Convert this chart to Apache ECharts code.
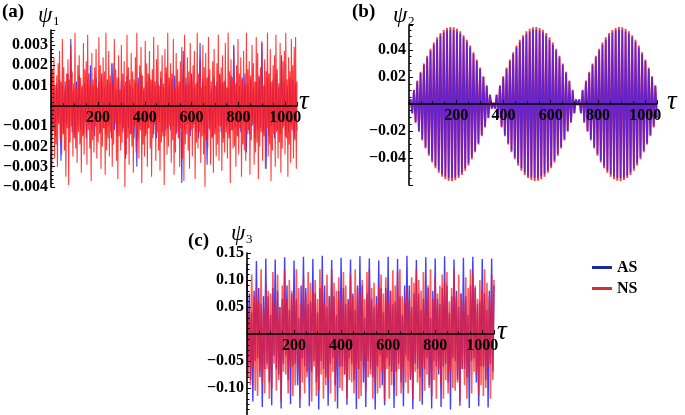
<!DOCTYPE html>
<html><head><meta charset="utf-8">
<script src="https://cdn.jsdelivr.net/npm/echarts@6/dist/echarts.min.js"></script>
<style>html,body{margin:0;padding:0;background:#fff}#c{width:685px;height:415px}</style>
</head><body><div id="c"></div>
<script>
// ---------- data ----------
const seriesNames = ['AS', 'NS'];
const xMax = 1050;
const xTicks = [200, 400, 600, 800, 1000];
const xTickLabels = ['200', '400', '600', '800', '1000'];

// panel (a): psi_1 ; NS sampled every 3 tau, AS every 6 tau
const tauStepANS = 3;
const aNS = [
0.0029,-0.0031,0.0018,-0.0012,0.0024,-0.0026,0.0010,-0.0019,0.0015,-0.0030,
0.0021,-0.0009,0.0027,-0.0017,0.0012,-0.0024,0.0033,-0.0014,0.0019,-0.0022,
0.0008,-0.0035,0.0016,-0.0011,0.0023,-0.0039,0.0013,-0.0018,0.0030,-0.0010,
0.0017,-0.0025,0.0011,-0.0016,0.0036,-0.0021,0.0009,-0.0028,0.0020,-0.0013,
0.0025,-0.0019,0.0014,-0.0033,0.0010,-0.0015,0.0031,-0.0024,0.0018,-0.0008,
0.0022,-0.0029,0.0035,-0.0012,0.0016,-0.0021,0.0011,-0.0037,0.0026,-0.0017,
0.0013,-0.0023,0.0019,-0.0010,0.0028,-0.0026,0.0009,-0.0018,0.0034,-0.0014,
0.0020,-0.0031,0.0012,-0.0020,0.0024,-0.0011,0.0017,-0.0034,0.0036,-0.0022,
0.0010,-0.0016,0.0027,-0.0025,0.0015,-0.0013,0.0021,-0.0030,0.0011,-0.0019,
0.0033,-0.0009,0.0018,-0.0027,0.0014,-0.0036,0.0025,-0.0015,0.0008,-0.0022,
0.0030,-0.0018,0.0016,-0.0011,0.0022,-0.0040,0.0012,-0.0024,0.0035,-0.0016,
0.0019,-0.0029,0.0010,-0.0014,0.0026,-0.0020,0.0017,-0.0033,0.0013,-0.0010,
0.0024,-0.0023,0.0036,-0.0017,0.0011,-0.0026,0.0020,-0.0012,0.0029,-0.0038,
0.0015,-0.0019,0.0009,-0.0025,0.0032,-0.0014,0.0021,-0.0030,0.0016,-0.0011,
0.0027,-0.0021,0.0013,-0.0035,0.0018,-0.0016,0.0034,-0.0009,0.0012,-0.0027,
0.0023,-0.0013,0.0030,-0.0022,0.0010,-0.0032,0.0017,-0.0018,0.0025,-0.0015,
0.0011,-0.0039,0.0028,-0.0012,0.0019,-0.0024,0.0036,-0.0020,0.0014,-0.0010,
0.0021,-0.0028,0.0016,-0.0017,0.0033,-0.0034,0.0009,-0.0023,0.0026,-0.0013,
0.0018,-0.0016,0.0012,-0.0030,0.0022,-0.0011,0.0029,-0.0026,0.0015,-0.0037,
0.0035,-0.0019,0.0010,-0.0014,0.0024,-0.0022,0.0017,-0.0031,0.0031,-0.0012,
0.0013,-0.0025,0.0020,-0.0009,0.0027,-0.0036,0.0011,-0.0018,0.0036,-0.0021,
0.0016,-0.0013,0.0023,-0.0028,0.0009,-0.0015,0.0030,-0.0024,0.0019,-0.0040,
0.0026,-0.0017,0.0014,-0.0021,0.0034,-0.0011,0.0018,-0.0029,0.0012,-0.0016,
0.0022,-0.0033,0.0028,-0.0014,0.0010,-0.0025,0.0021,-0.0019,0.0035,-0.0027,
0.0015,-0.0010,0.0019,-0.0032,0.0025,-0.0018,0.0012,-0.0023,0.0031,-0.0013,
0.0009,-0.0026,0.0036,-0.0016,0.0017,-0.0038,0.0023,-0.0012,0.0014,-0.0021,
0.0029,-0.0020,0.0011,-0.0030,0.0020,-0.0015,0.0033,-0.0024,0.0016,-0.0011,
0.0024,-0.0035,0.0013,-0.0019,0.0027,-0.0022,0.0010,-0.0027,0.0036,-0.0014,
0.0018,-0.0012,0.0022,-0.0034,0.0015,-0.0017,0.0030,-0.0009,0.0021,-0.0029,
0.0012,-0.0023,0.0034,-0.0018,0.0026,-0.0036,0.0014,-0.0020,0.0019,-0.0013,
0.0032,-0.0027,0.0010,-0.0015,0.0023,-0.0031,0.0017,-0.0011,0.0036,-0.0025,
0.0016,-0.0019,0.0028,-0.0037,0.0012,-0.0022,0.0020,-0.0014,0.0025,-0.0030,
0.0035,-0.0013,0.0018,-0.0026,0.0011,-0.0018,0.0031,-0.0033,0.0015,-0.0021,
0.0022,-0.0010,0.0027,-0.0024,0.0036,-0.0016,0.0013,-0.0035,0.0024,-0.0019,
0.0017,-0.0028,0.0033,-0.0012,0.0020,-0.0026,0.0029,-0.0017,0.0034,-0.0031,
0.0012];
const tauStepAAS = 6;
const aAS = [
0.0014,-0.0012,0.0009,-0.0015,0.0011,-0.0008,0.0013,-0.0027,0.0010,-0.0014,
0.0012,-0.0009,0.0016,-0.0011,0.0033,-0.0013,0.0008,-0.0016,0.0012,-0.0010,
0.0015,-0.0012,0.0009,-0.0014,0.0011,-0.0016,0.0013,-0.0009,0.0020,-0.0012,
0.0010,-0.0015,0.0014,-0.0008,0.0012,-0.0013,0.0016,-0.0011,0.0009,-0.0014,
0.0013,-0.0010,0.0011,-0.0016,0.0021,-0.0012,0.0008,-0.0015,0.0014,-0.0009,
0.0012,-0.0013,0.0010,-0.0026,0.0015,-0.0011,0.0013,-0.0014,0.0009,-0.0016,
0.0011,-0.0030,0.0014,-0.0010,0.0016,-0.0012,0.0008,-0.0015,0.0012,-0.0011,
0.0015,-0.0009,0.0013,-0.0014,0.0010,-0.0016,0.0012,-0.0008,0.0014,-0.0013,
0.0009,-0.0015,0.0016,-0.0011,0.0011,-0.0012,0.0013,-0.0010,0.0015,-0.0014,
0.0010,-0.0016,0.0012,-0.0038,0.0027,-0.0012,0.0014,-0.0009,0.0011,-0.0015,
0.0016,-0.0011,0.0009,-0.0013,0.0012,-0.0016,0.0031,-0.0010,0.0013,-0.0014,
0.0010,-0.0029,0.0015,-0.0012,0.0008,-0.0015,0.0014,-0.0011,0.0012,-0.0009,
0.0016,-0.0013,0.0011,-0.0016,0.0013,-0.0010,0.0009,-0.0014,0.0015,-0.0012,
0.0030,-0.0011,0.0012,-0.0015,0.0010,-0.0013,0.0014,-0.0009,0.0016,-0.0023,
0.0011,-0.0014,0.0013,-0.0010,0.0009,-0.0016,0.0012,-0.0012,0.0015,-0.0011,
0.0031,-0.0013,0.0010,-0.0031,0.0014,-0.0015,0.0011,-0.0010,0.0013,-0.0016,
0.0016,-0.0012,0.0009,-0.0014,0.0025,-0.0011,0.0012,-0.0015,0.0010,-0.0013,
0.0014,-0.0009,0.0013,-0.0016,0.0011,-0.0012];
const aYTicks = [-0.004, -0.003, -0.002, -0.001, 0.001, 0.002, 0.003];
const aYLabels = ['\u22120.004', '\u22120.003', '\u22120.002', '\u22120.001', '0.001', '0.002', '0.003'];

// panel (b): psi_2, samples every 7 tau
const tauStepB = 7;
const bAS = [
0,0.0034,-0.0068,0.0101,-0.0134,0.0167,-0.0199,0.0230,-0.0260,0.0290,
-0.0318,0.0345,-0.0371,0.0395,-0.0418,0.0439,-0.0459,0.0476,-0.0492,0.0507,
-0.0519,0.0529,-0.0537,0.0544,-0.0548,0.0550,-0.0550,0.0548,-0.0544,0.0537,
-0.0529,0.0519,-0.0507,0.0492,-0.0476,0.0459,-0.0439,0.0418,-0.0395,0.0371,
-0.0345,0.0318,-0.0290,0.0260,-0.0230,0.0199,-0.0167,0.0134,-0.0101,0.0068,
-0.0034,0.0008,-0.0034,0.0068,-0.0101,0.0134,-0.0167,0.0199,-0.0230,0.0260,
-0.0290,0.0318,-0.0345,0.0371,-0.0395,0.0418,-0.0439,0.0459,-0.0476,0.0492,
-0.0507,0.0519,-0.0529,0.0537,-0.0544,0.0548,-0.0550,0.0550,-0.0548,0.0544,
-0.0537,0.0529,-0.0519,0.0507,-0.0492,0.0476,-0.0459,0.0439,-0.0418,0.0395,
-0.0371,0.0345,-0.0318,0.0290,-0.0260,0.0230,-0.0199,0.0167,-0.0134,0.0101,
-0.0068,0.0034,-0.0008,0.0034,-0.0068,0.0101,-0.0134,0.0167,-0.0199,0.0230,
-0.0260,0.0290,-0.0318,0.0345,-0.0371,0.0395,-0.0418,0.0439,-0.0459,0.0476,
-0.0492,0.0507,-0.0519,0.0529,-0.0537,0.0544,-0.0548,0.0550,-0.0550,0.0548,
-0.0544,0.0537,-0.0529,0.0519,-0.0507,0.0492,-0.0476,0.0459,-0.0439,0.0418,
-0.0395,0.0371,-0.0345,0.0318,-0.0290,0.0260,-0.0230,0.0199,-0.0167,0.0134,
-0.0101];
const bNS = [
0,0.0035,-0.0070,0.0105,-0.0139,0.0173,-0.0206,0.0238,-0.0270,0.0300,
-0.0329,0.0357,-0.0384,0.0409,-0.0433,0.0455,-0.0475,0.0494,-0.0510,0.0525,
-0.0538,0.0548,-0.0557,0.0563,-0.0568,0.0570,-0.0570,0.0568,-0.0563,0.0557,
-0.0548,0.0538,-0.0525,0.0510,-0.0494,0.0475,-0.0455,0.0433,-0.0409,0.0384,
-0.0357,0.0329,-0.0300,0.0270,-0.0238,0.0206,-0.0173,0.0139,-0.0105,0.0070,
-0.0035,0.0012,-0.0035,0.0070,-0.0105,0.0139,-0.0173,0.0206,-0.0238,0.0270,
-0.0300,0.0329,-0.0357,0.0384,-0.0409,0.0433,-0.0455,0.0475,-0.0494,0.0510,
-0.0525,0.0538,-0.0548,0.0557,-0.0563,0.0568,-0.0570,0.0570,-0.0568,0.0563,
-0.0557,0.0548,-0.0538,0.0525,-0.0510,0.0494,-0.0475,0.0455,-0.0433,0.0409,
-0.0384,0.0357,-0.0329,0.0300,-0.0270,0.0238,-0.0206,0.0173,-0.0139,0.0105,
-0.0070,0.0035,-0.0010,0.0035,-0.0070,0.0105,-0.0139,0.0173,-0.0206,0.0238,
-0.0270,0.0300,-0.0329,0.0357,-0.0384,0.0409,-0.0433,0.0455,-0.0475,0.0494,
-0.0510,0.0525,-0.0538,0.0548,-0.0557,0.0563,-0.0568,0.0570,-0.0570,0.0568,
-0.0563,0.0557,-0.0548,0.0538,-0.0525,0.0510,-0.0494,0.0475,-0.0455,0.0433,
-0.0409,0.0384,-0.0357,0.0329,-0.0300,0.0270,-0.0238,0.0206,-0.0173,0.0139,
-0.0105];
const bYTicks = [-0.04, -0.02, 0.02, 0.04];
const bYLabels = ['\u22120.04', '\u22120.02', '0.02', '0.04'];

// panel (c): psi_3, samples every 5 tau
const tauStepC = 5;
const cAS = [
0.130,-0.060,0.075,-0.085,0.040,-0.125,0.080,-0.050,
0.135,-0.045,0.085,-0.080,0.055,-0.135,0.070,-0.065,
0.140,-0.055,0.070,-0.090,0.035,-0.132,0.085,-0.040,
0.138,-0.065,0.080,-0.075,0.050,-0.138,0.065,-0.055,
0.142,-0.040,0.090,-0.085,0.045,-0.130,0.075,-0.060,
0.136,-0.055,0.065,-0.095,0.030,-0.137,0.090,-0.045,
0.143,-0.060,0.085,-0.070,0.055,-0.134,0.060,-0.070,
0.139,-0.050,0.075,-0.090,0.040,-0.140,0.085,-0.050,
0.145,-0.065,0.090,-0.080,0.050,-0.133,0.070,-0.055,
0.137,-0.045,0.070,-0.095,0.035,-0.138,0.080,-0.060,
0.141,-0.060,0.085,-0.075,0.055,-0.131,0.065,-0.045,
0.138,-0.055,0.075,-0.085,0.045,-0.139,0.090,-0.065,
0.144,-0.050,0.090,-0.090,0.030,-0.135,0.075,-0.050,
0.140,-0.065,0.065,-0.080,0.050,-0.140,0.070,-0.060,
0.136,-0.040,0.085,-0.095,0.040,-0.132,0.085,-0.045,
0.143,-0.060,0.080,-0.070,0.055,-0.137,0.060,-0.070,
0.139,-0.055,0.070,-0.090,0.035,-0.134,0.090,-0.040,
0.145,-0.050,0.090,-0.085,0.050,-0.139,0.075,-0.055,
0.137,-0.065,0.075,-0.080,0.045,-0.131,0.065,-0.065,
0.142,-0.045,0.085,-0.095,0.030,-0.138,0.080,-0.050,
0.140,-0.060,0.065,-0.075,0.055,-0.135,0.085,-0.060,
0.144,-0.055,0.090,-0.090,0.040,-0.140,0.070,-0.045,
0.138,-0.050,0.080,-0.085,0.050,-0.133,0.075,-0.065,
0.141,-0.065,0.070,-0.080,0.035,-0.137,0.090,-0.050,
0.143,-0.045,0.085,-0.090,0.055,-0.134,0.060,-0.060,
0.139,-0.060,0.075,-0.085,0.045,-0.136,0.080,-0.055,
0.140,-0.070,0.090];
const cNS = [
0.100,-0.080,0.050,-0.095,0.110,-0.060,0.070,-0.105,
0.085,-0.115,0.060,-0.070,0.120,-0.090,0.045,-0.110,
0.095,-0.065,0.080,-0.120,0.075,-0.100,0.115,-0.055,
0.060,-0.105,0.110,-0.085,0.050,-0.125,0.090,-0.070,
0.118,-0.075,0.065,-0.110,0.100,-0.060,0.080,-0.115,
0.070,-0.095,0.120,-0.065,0.085,-0.120,0.055,-0.090,
0.105,-0.110,0.075,-0.080,0.115,-0.070,0.095,-0.125,
0.080,-0.060,0.100,-0.115,0.065,-0.105,0.120,-0.075,
0.090,-0.120,0.055,-0.095,0.110,-0.085,0.070,-0.110,
0.120,-0.070,0.095,-0.125,0.080,-0.060,0.105,-0.100,
0.065,-0.105,0.115,-0.075,0.090,-0.120,0.060,-0.085,
0.110,-0.090,0.070,-0.110,0.120,-0.065,0.085,-0.120,
0.075,-0.115,0.100,-0.060,0.065,-0.105,0.115,-0.080,
0.120,-0.075,0.085,-0.120,0.095,-0.090,0.055,-0.110,
0.090,-0.100,0.110,-0.070,0.075,-0.125,0.105,-0.065,
0.060,-0.120,0.080,-0.095,0.118,-0.075,0.090,-0.115,
0.115,-0.065,0.120,-0.110,0.070,-0.100,0.060,-0.090,
0.085,-0.110,0.065,-0.080,0.105,-0.120,0.095,-0.070,
0.120,-0.090,0.100,-0.125,0.080,-0.060,0.115,-0.105,
0.070,-0.075,0.090,-0.100,0.120,-0.115,0.065,-0.085,
0.105,-0.120,0.075,-0.065,0.090,-0.095,0.110,-0.120,
0.095,-0.085,0.115,-0.110,0.060,-0.070,0.085,-0.100,
0.120,-0.105,0.070,-0.090,0.110,-0.125,0.075,-0.065,
0.065,-0.095,0.105,-0.120,0.085,-0.080,0.120,-0.110,
0.110,-0.070,0.090,-0.075,0.065,-0.115,0.100,-0.095,
0.080,-0.115,0.120,-0.100,0.095,-0.060,0.070,-0.120,
0.110,-0.085,0.100];
const cYTicks = [-0.10, -0.05, 0.05, 0.10, 0.15];
const cYLabels = ['\u22120.10', '\u22120.05', '0.05', '0.10', '0.15'];

// ---------- chart ----------
const FONT = '"Liberation Serif","Times New Roman",serif';
const BLUE = '#1010ff', RED = '#ff1a1a';
function fmt(ticks, labels) {
  return function (v) {
    for (let i = 0; i < ticks.length; i++) if (Math.abs(v - ticks[i]) < 1e-9) return labels[i];
    return '';
  };
}
function pairs(vals, step) { return vals.map((v, i) => [i * step, v]); }
// x axis drawn through y = 0 (offset up from the grid bottom)
function xAx(g, off) {
  return {
    type: 'value', gridIndex: g, min: 0, max: xMax, interval: 200, z: 10, position: 'bottom', offset: off,
    axisLine: { show: true, onZero: false, lineStyle: { color: '#000', width: 1.6 } },
    axisTick: { show: true, inside: true, length: 4, lineStyle: { color: '#000', width: 1 } },
    minorTick: { show: true, splitNumber: 4, length: 2.5, lineStyle: { color: '#000', width: 1 } },
    axisLabel: { show: true, margin: 4, formatter: fmt(xTicks, xTickLabels), fontFamily: FONT, fontWeight: 'bold', fontSize: 16, color: '#000' },
    splitLine: { show: false }, minorSplitLine: { show: false }
  };
}
function yAx(g, min, max, interval, ticks, labels, minorSplit) {
  return {
    type: 'value', gridIndex: g, min: min, max: max, interval: interval, z: 10,
    axisLine: { show: true, onZero: false, lineStyle: { color: '#000', width: 1.6 } },
    axisTick: { show: true, inside: true, length: 4, lineStyle: { color: '#000', width: 1 } },
    minorTick: { show: true, splitNumber: minorSplit, length: 2.5, lineStyle: { color: '#000', width: 1 } },
    axisLabel: { show: true, margin: 3, formatter: fmt(ticks, labels), fontFamily: FONT, fontWeight: 'bold', fontSize: 16, color: '#000' },
    splitLine: { show: false }, minorSplitLine: { show: false }
  };
}
function line(name, g, vals, step, color, opacity, width, z) {
  return {
    type: 'line', name: name, xAxisIndex: g, yAxisIndex: g, data: pairs(vals, step),
    showSymbol: false, symbol: 'none', animation: false, silent: true, z: z,
    lineStyle: { color: color, width: width, opacity: opacity }, itemStyle: { color: color }
  };
}
function txt(x, y, s, size, style, weight) {
  return { type: 'text', left: x, top: y, z: 20, style: { text: s, font: (style || 'normal') + ' ' + (weight || 'normal') + ' ' + size + 'px ' + FONT, fill: '#000' } };
}

const chart = echarts.init(document.getElementById('c'), null, { renderer: 'canvas' });
chart.setOption({
  animation: false,
  backgroundColor: '#fff',
  grid: [
    { left: 51, top: 30, width: 246, height: 157 },
    { left: 409, top: 25.7, width: 248, height: 159.3 },
    { left: 247, top: 253, width: 247, height: 162 }
  ],
  xAxis: [xAx(0, -81.1), xAx(1, -81), xAx(2, -81)],
  yAxis: [
    yAx(0, -0.004, 0.00374, 0.001, aYTicks, aYLabels, 5),
    yAx(1, -0.06, 0.058, 0.02, bYTicks, bYLabels, 4),
    yAx(2, -0.15, 0.15, 0.05, cYTicks, cYLabels, 5)
  ],
  legend: {
    orient: 'vertical', left: 587, top: 254, itemWidth: 20, itemHeight: 3, itemGap: 4, icon: 'rect',
    textStyle: { fontFamily: FONT, fontWeight: 'bold', fontSize: 16, color: '#000', lineHeight: 17 },
    data: [
      { name: seriesNames[0], itemStyle: { color: '#1c2a9c' } },
      { name: seriesNames[1], itemStyle: { color: '#cc3333' } }
    ]
  },
  series: [
    line(seriesNames[0], 0, aAS, tauStepAAS, BLUE, 0.8, 1.1, 2),
    line(seriesNames[1], 0, aNS, tauStepANS, RED, 0.85, 1.1, 3),
    line(seriesNames[1], 1, bNS, tauStepB, RED, 0.85, 1.9, 2),
    line(seriesNames[0], 1, bAS, tauStepB, '#2a1aff', 0.72, 1.7, 3),
    line(seriesNames[0], 2, cAS, tauStepC, BLUE, 0.8, 1.4, 2),
    line(seriesNames[1], 2, cNS, tauStepC, RED, 0.72, 1.6, 3)
  ],
  graphic: [
    txt(2, 3, '(a)', 19, 'normal', 'bold'),
    txt(38, 4, '\u03C8', 23, 'italic', 'normal'),
    txt(53, 15, '1', 13, 'normal', 'normal'),
    txt(352, 3, '(b)', 19, 'normal', 'bold'),
    txt(393, 4, '\u03C8', 23, 'italic', 'normal'),
    txt(408, 15, '2', 13, 'normal', 'normal'),
    txt(188, 232, '(c)', 19, 'normal', 'bold'),
    txt(231, 222, '\u03C8', 23, 'italic', 'normal'),
    txt(246, 233, '3', 13, 'normal', 'normal'),
    txt(299, 88, '\u03C4', 27, 'italic', 'normal'),
    txt(667, 88, '\u03C4', 27, 'italic', 'normal'),
    txt(497, 318, '\u03C4', 27, 'italic', 'normal')
  ]
});
</script>
</body></html>
